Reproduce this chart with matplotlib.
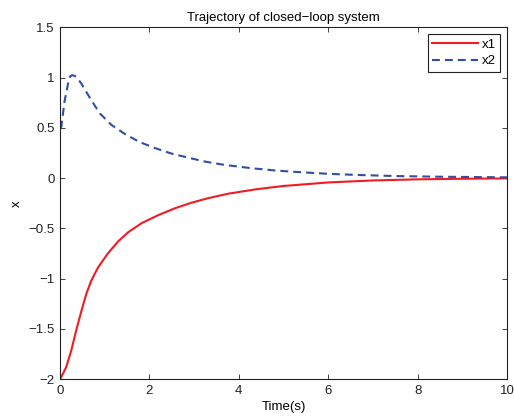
import numpy as np
import matplotlib
matplotlib.use("Agg")
from matplotlib import pyplot as plt

plt.rcParams['font.family'] = ['Liberation Sans', 'DejaVu Sans']

# values
t1 = [0, 0.03, 0.14, 0.25, 0.36, 0.48, 0.59, 0.70, 0.85, 1.07, 1.30, 1.52,
      1.82, 2.19, 2.57, 2.94, 3.31, 3.76, 4.4, 5.0, 6.0, 7.0, 8.0, 9.0, 10.0]
x1 = [-2.0, -1.98, -1.88, -1.72, -1.52, -1.32, -1.15, -1.02, -0.89, -0.75,
      -0.63, -0.54, -0.45, -0.37, -0.30, -0.245, -0.20, -0.155, -0.11, -0.078,
      -0.043, -0.023, -0.012, -0.006, -0.003]

t2 = [0, 0.03, 0.10, 0.18, 0.22, 0.27, 0.32, 0.38, 0.48, 0.68, 0.89, 1.15,
      1.45, 1.78, 2.12, 2.49, 2.86, 3.24, 3.68, 4.28, 4.8, 5.2, 6.0, 6.7,
      7.5, 8.5, 10.0]
x2 = [0.5, 0.51, 0.76, 0.94, 1.01, 1.025, 1.02, 1.0, 0.94, 0.79, 0.645, 0.53,
      0.44, 0.36, 0.30, 0.245, 0.205, 0.165, 0.132, 0.099, 0.077, 0.064,
      0.043, 0.031, 0.021, 0.014, 0.008]

xticks = [0, 2, 4, 6, 8, 10]
yticks = [-2, -1.5, -1, -0.5, 0, 0.5, 1, 1.5]
ylabels = ['\u22122', '\u22121.5', '\u22121', '\u22120.5', '0', '0.5', '1', '1.5']

fig = plt.figure(figsize=(5.14, 4.19), dpi=100)
ax = fig.add_axes([60/514, 40/419, 447/514, 351.5/419])

ax.plot(t1, x1, color='#f01c24', lw=1.5, label='x1')
ax.plot(t2, x2, color='#2f4fa2', lw=1.5, dashes=(3.8, 2.4), label='x2')

ax.set_xlim(0, 10)
ax.set_ylim(-2, 1.5)
ax.set_xticks(xticks)
ax.set_xticklabels([str(v) for v in xticks])
ax.set_yticks(yticks)
ax.set_yticklabels(ylabels)
ax.tick_params(direction='in', top=True, right=True, labelsize=9.5,
               length=3.5, width=0.6, pad=4, colors='#222222')
for s in ax.spines.values():
    s.set_linewidth(0.8)
    s.set_color('#222222')

ax.set_title('Trajectory of closed\u2212loop system', fontsize=9.5, pad=5)
ax.set_xlabel('Time(s)', fontsize=9.5, labelpad=3)
ax.set_ylabel('x', fontsize=9.5, labelpad=4)

leg = ax.legend(loc='upper right', fontsize=9.5, fancybox=False,
                handlelength=3.5, handletextpad=0.25, borderpad=0.35,
                labelspacing=0.3, borderaxespad=0.5, framealpha=1)
leg.get_frame().set_edgecolor('#222222')
leg.get_frame().set_linewidth(0.8)

fig.savefig('out.png', dpi=100)
